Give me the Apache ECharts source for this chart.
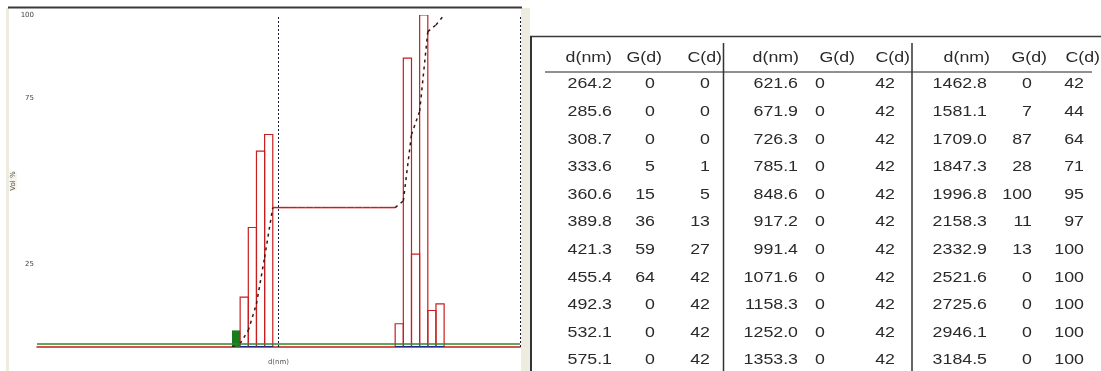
<!DOCTYPE html>
<html>
<head>
<meta charset="utf-8">
<script src="https://cdn.jsdelivr.net/npm/echarts@6/dist/echarts.min.js"></script>
<style>
  html, body { margin: 0; padding: 0; background: #fff; }
  #chart { width: 1101px; height: 371px; }
</style>
</head>
<body>
<div id="chart"></div>
<script>
// size classes (nm), distribution G(d) and cumulative C(d)
const diameters = [
  264.2, 285.6, 308.7, 333.6, 360.6, 389.8, 421.3, 455.4, 492.3, 532.1, 575.1,
  621.6, 671.9, 726.3, 785.1, 848.6, 917.2, 991.4, 1071.6, 1158.3, 1252.0, 1353.3,
  1462.8, 1581.1, 1709.0, 1847.3, 1996.8, 2158.3, 2332.9, 2521.6, 2725.6, 2946.1, 3184.5
]
const gValues = [
  0, 0, 0, 5, 15, 36, 59, 64, 0, 0, 0,
  0, 0, 0, 0, 0, 0, 0, 0, 0, 0, 0,
  0, 7, 87, 28, 100, 11, 13, 0, 0, 0, 0
]
const cValues = [
  0, 0, 0, 1, 5, 13, 27, 42, 42, 42, 42,
  42, 42, 42, 42, 42, 42, 42, 42, 42, 42, 42,
  42, 44, 64, 71, 95, 97, 100, 100, 100, 100, 100
]
const headers = ['d(nm)', 'G(d)', 'C(d)']
const markerIndex = 3        // class shown as the filled green block
const refDiameters = [500, 5000]
const baseLevel = 1

const RED = '#c81e1e'
const n = diameters.length

// bin edges = geometric midpoints between classes
const leftEdge = diameters.map((d, i) => i === 0 ? d / Math.sqrt(diameters[1] / d) : Math.sqrt(diameters[i - 1] * d))
const rightEdge = diameters.map((d, i) => i === n - 1 ? d * Math.sqrt(d / diameters[i - 1]) : Math.sqrt(d * diameters[i + 1]))

const histData = diameters.map((d, i) => [d, gValues[i], leftEdge[i], rightEdge[i], i])
const cumData = []
for (let i = 0; i < n - 1; i++) cumData.push([rightEdge[i], cValues[i], rightEdge[i + 1], cValues[i + 1]])

// ---- table as graphic text ----
const headRight = [[612, 662, 722], [799, 855, 910], [990, 1047, 1100]]
const valRight = [[612, 655, 710], [798, 825, 895], [987, 1032, 1084]]
const headY = 58
const rowY0 = 84.5
const rowStep = 27.6
const rowsPerBlock = 11

function txt(str, x, y) {
  return {
    type: 'text', x: x, y: y, scaleX: 1.27, silent: true,
    style: {
      text: str, fontSize: 14, fontFamily: 'Liberation Sans', fill: '#2a2a2a',
      align: 'right', textAlign: 'right',
      verticalAlign: 'middle', textVerticalAlign: 'middle'
    }
  }
}
const tableEls = []
for (let b = 0; b < 3; b++) {
  headers.forEach((h, c) => tableEls.push(txt(h, headRight[b][c], headY)))
  for (let r = 0; r < rowsPerBlock; r++) {
    const i = b * rowsPerBlock + r
    const y = rowY0 + r * rowStep
    tableEls.push(txt(diameters[i].toFixed(1), valRight[b][0], y))
    tableEls.push(txt(String(gValues[i]), valRight[b][1], y))
    tableEls.push(txt(String(cValues[i]), valRight[b][2], y))
  }
}

const frameEls = [
  { type: 'rect', shape: { x: 521, y: 8, width: 9, height: 363 }, style: { fill: '#eeebdf' }, silent: true },
  { type: 'rect', shape: { x: 6, y: 8, width: 3, height: 363 }, style: { fill: '#eeebdf' }, silent: true },
  { type: 'line', shape: { x1: 8, y1: 7.5, x2: 522, y2: 7.5 }, style: { stroke: '#3a3a3a', lineWidth: 2 }, silent: true },
  { type: 'line', shape: { x1: 530, y1: 36.5, x2: 1101, y2: 36.5 }, style: { stroke: '#3a3a3a', lineWidth: 1.5 }, silent: true },
  { type: 'line', shape: { x1: 531, y1: 36, x2: 531, y2: 371 }, style: { stroke: '#333', lineWidth: 2 }, silent: true },
  { type: 'line', shape: { x1: 545, y1: 72, x2: 1092, y2: 72 }, style: { stroke: '#222', lineWidth: 1 }, silent: true },
  { type: 'line', shape: { x1: 723.5, y1: 43, x2: 723.5, y2: 371 }, style: { stroke: '#333', lineWidth: 1.5 }, silent: true },
  { type: 'line', shape: { x1: 912, y1: 43, x2: 912, y2: 371 }, style: { stroke: '#333', lineWidth: 1.5 }, silent: true }
]

const chart = echarts.init(document.getElementById('chart'), null, { renderer: 'canvas' })
chart.setOption({
  animation: false,
  backgroundColor: '#fff',
  grid: { left: 37, right: 581, top: 15, bottom: 19 },
  xAxis: {
    type: 'log', logBase: 10, min: 50, max: 5000,
    name: 'd(nm)', nameLocation: 'middle', nameGap: 12,
    nameTextStyle: { fontSize: 7, color: '#555', fontFamily: 'DejaVu Sans' },
    axisLine: { show: true, lineStyle: { color: RED, width: 1.5 } },
    axisTick: { show: false },
    axisLabel: { show: false },
    splitLine: { show: false }
  },
  yAxis: {
    type: 'value', min: 0, max: 100, interval: 25,
    name: 'Vol %', nameLocation: 'middle', nameGap: 17, nameRotate: 90,
    nameTextStyle: { fontSize: 7, color: '#555', fontFamily: 'DejaVu Sans', backgroundColor: '#f6f4ea' },
    axisLine: { show: false },
    axisTick: { show: false },
    splitLine: { show: false },
    axisLabel: {
      fontSize: 7, color: '#444', margin: 3, fontFamily: 'DejaVu Sans',
      formatter: v => (v === 0 || v === 50) ? '' : String(v)
    }
  },
  series: [
    {
      type: 'custom',
      name: 'G(d)',
      clip: true,
      data: histData,
      encode: { x: 0, y: 1 },
      renderItem(params, api) {
        const g = api.value(1)
        if (!g) return null
        const l = api.coord([api.value(2), 0])
        const r = api.coord([api.value(3), 0])
        const top = api.coord([api.value(2), g])[1]
        if (api.value(4) === markerIndex) {
          return {
            type: 'rect',
            shape: { x: l[0], y: top, width: r[0] - l[0], height: l[1] - top },
            style: { fill: '#1d7a1d' }
          }
        }
        return {
          type: 'group',
          children: [
            {
              type: 'polyline',
              shape: { points: [[l[0], l[1]], [l[0], top], [r[0], top], [r[0], r[1]]] },
              style: { stroke: RED, lineWidth: 1.2, fill: null }
            },
            {
              type: 'line',
              shape: { x1: l[0], y1: l[1], x2: r[0], y2: r[1] },
              style: { stroke: '#25258f', lineWidth: 2 }
            }
          ]
        }
      },
      markLine: {
        silent: true, symbol: 'none', label: { show: false },
        data: [
          { yAxis: baseLevel, lineStyle: { color: '#2a8a2a', type: 'solid', width: 1.5 } },
          ...refDiameters.map(v => ({ xAxis: v, lineStyle: { color: '#1a1a3a', type: [2, 2], width: 1 } }))
        ]
      },
      z: 3
    },
    {
      type: 'custom',
      name: 'C(d)',
      clip: true,
      data: cumData,
      encode: { x: [0, 2], y: [1, 3] },
      renderItem(params, api) {
        const c0 = api.value(1), c1 = api.value(3)
        const a = api.coord([api.value(0), c0])
        const b = api.coord([api.value(2), c1])
        if (c0 === c1) {
          if (c0 <= 0 || c0 >= 100) return null
          return { type: 'line', shape: { x1: a[0], y1: a[1], x2: b[0], y2: b[1] }, style: { stroke: RED, lineWidth: 1.5 } }
        }
        return {
          type: 'line',
          shape: { x1: a[0], y1: a[1], x2: b[0], y2: b[1] },
          style: { stroke: '#3a1414', lineWidth: 1.5, lineDash: [3, 4] }
        }
      },
      z: 4
    }
  ],
  graphic: { elements: frameEls.concat(tableEls) }
})
</script>
</body>
</html>
